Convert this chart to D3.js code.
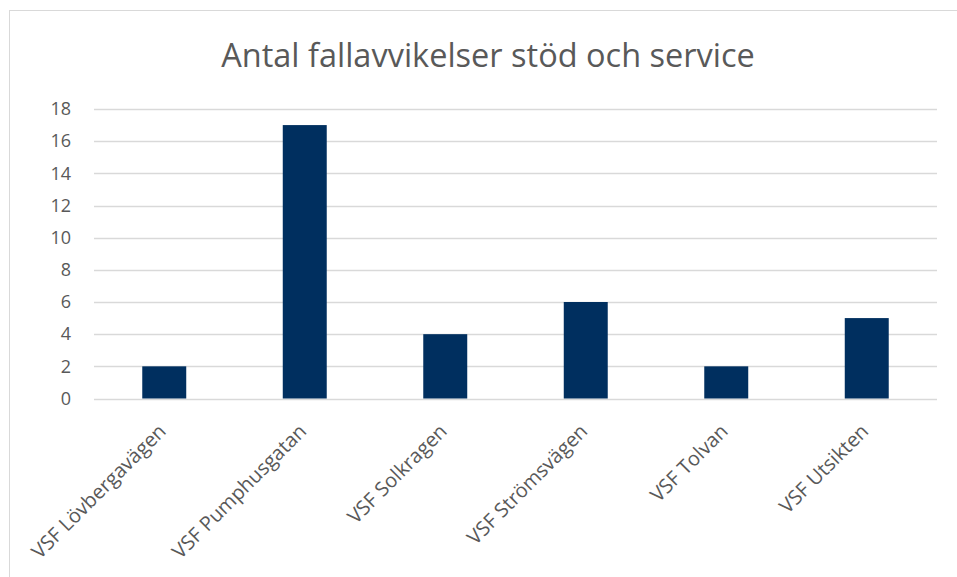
<!DOCTYPE html>
<html>
<head>
<meta charset="utf-8">
<script src="https://cdn.jsdelivr.net/npm/d3@7"></script>
<style>
  body { margin: 0; background: #fff; }
  text { font-family: "Open Sans", "Noto Sans", sans-serif; }
</style>
</head>
<body>
<svg id="chart" width="957" height="577"></svg>
<script>
// data
var categories = ["VSF Lövbergavägen", "VSF Pumphusgatan", "VSF Solkragen", "VSF Strömsvägen", "VSF Tolvan", "VSF Utsikten"];
var values = [2, 17, 4, 6, 2, 5];
var yTicks = [0, 2, 4, 6, 8, 10, 12, 14, 16, 18];
var title = "Antal fallavvikelser stöd och service";

var svg = d3.select('#chart');
var W = 957, H = 577;
var plot = { left: 94, right: 937, top: 109, bottom: 398.5 };

// chart border
svg.append('rect')
  .attr('x', 9.5).attr('y', 10.5)
  .attr('width', W).attr('height', H)
  .style('fill', 'none')
  .style('stroke', '#d9d9d9');

svg.append('text')
  .attr('x', 488)
  .attr('y', 67)
  .attr('text-anchor', 'middle')
  .style('font-size', '32.5px')
  .style('fill', '#595959')
  .text(title);

var x = d3.scaleBand()
  .domain(categories)
  .range([plot.left, plot.right])
  .paddingInner(0.687)
  .paddingOuter(0.3435);

var y = d3.scaleLinear()
  .domain([0, 18])
  .range([plot.bottom, plot.top]);

// gridlines
svg.append('g')
  .selectAll('line.grid')
  .data(yTicks)
  .enter()
  .append('line')
  .classed('grid', true)
  .attr('x1', plot.left)
  .attr('x2', plot.right)
  .attr('y1', d => Math.round(y(d)) + 0.5)
  .attr('y2', d => Math.round(y(d)) + 0.5)
  .style('stroke', '#d9d9d9')
  .style('stroke-width', 1.5);

// y axis labels
var yAxis = svg.append('g')
  .attr('transform', 'translate(' + (plot.left - 23) + ',0)')
  .call(d3.axisLeft(y).tickValues(yTicks).tickSize(0).tickPadding(0));
yAxis.select('.domain').remove();
yAxis.selectAll('text')
  .style('font-family', '"Open Sans", sans-serif')
  .style('font-size', '18px')
  .style('fill', '#595959');

// bars
svg.append('g')
  .selectAll('rect.bar')
  .data(values)
  .enter()
  .append('rect')
  .classed('bar', true)
  .attr('x', (d, i) => x(categories[i]))
  .attr('width', x.bandwidth())
  .attr('y', d => y(d))
  .attr('height', d => y(0) - y(d))
  .style('fill', '#002f5f');

// category labels
var xAxis = svg.append('g')
  .attr('transform', 'translate(0,' + plot.bottom + ')')
  .call(d3.axisBottom(x).tickSize(0).tickPadding(0));
xAxis.select('.domain').remove();
xAxis.selectAll('text')
  .attr('text-anchor', 'end')
  .attr('dy', null)
  .attr('y', 0)
  .attr('transform', 'translate(3,34) rotate(-45)')
  .style('font-family', '"Open Sans", sans-serif')
  .style('font-size', '20px')
  .style('fill', '#595959');
</script>
</body>
</html>
